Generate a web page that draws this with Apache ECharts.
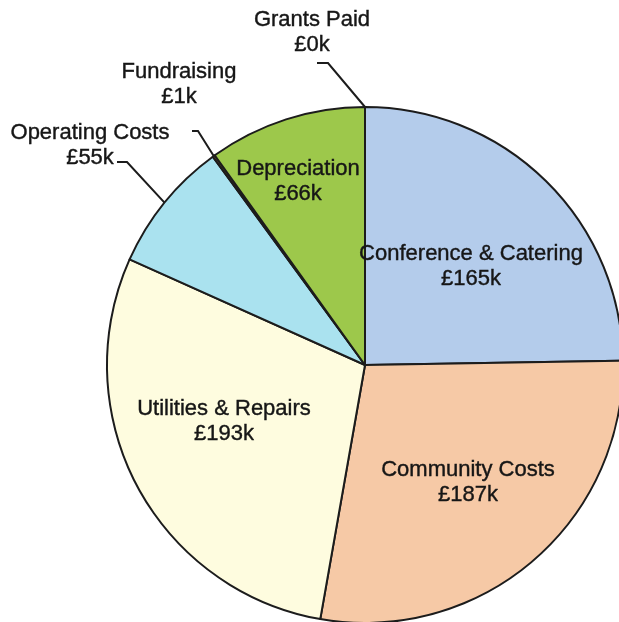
<!DOCTYPE html>
<html>
<head>
<meta charset="utf-8">
<script src="https://cdn.jsdelivr.net/npm/echarts@6/dist/echarts.min.js"></script>
<style>
  html, body { margin: 0; padding: 0; background: #ffffff; }
  #chart { width: 619px; height: 622px; }
</style>
</head>
<body>
<div id="chart"></div>
<script>
// Expenditure breakdown, £k, clockwise from twelve o'clock
const categories = [
  'Conference & Catering',
  'Community Costs',
  'Utilities & Repairs',
  'Operating Costs',
  'Fundraising',
  'Depreciation',
  'Grants Paid'
];
const amounts = [165, 187, 193, 55, 1, 66, 0];

const sliceColors = {
  'Conference & Catering': '#b4cceb',
  'Community Costs': '#f6c9a6',
  'Utilities & Repairs': '#fefcdf',
  'Operating Costs': '#aae2ef',
  'Fundraising': '#6e5028',
  'Depreciation': '#9dc84b',
  'Grants Paid': '#c8c8c8'
};

// Small slices carry their label outside with a leader line
const outsideNames = ['Operating Costs', 'Fundraising', 'Grants Paid'];

// Label block centres on the page
const labelSpots = {
  'Conference & Catering': [471, 266],
  'Community Costs': [468, 482],
  'Utilities & Repairs': [224, 421],
  'Operating Costs': [90, 145],
  'Fundraising': [179, 84],
  'Depreciation': [298, 181],
  'Grants Paid': [312, 32]
};

// Short horizontal hook of each leader line: [near text, near pie]
const leaderHooks = {
  'Operating Costs': [[117, 162], [127, 162]],
  'Fundraising': [[192, 131], [198, 131]],
  'Grants Paid': [[317, 63], [328, 63]]
};

const chart = echarts.init(document.getElementById('chart'), null, { renderer: 'canvas' });

const seriesData = categories.map((name, i) => {
  const outside = outsideNames.indexOf(name) >= 0;
  return {
    name: name,
    value: amounts[i],
    itemStyle: { color: sliceColors[name] },
    label: { position: outside ? 'outside' : 'inside' },
    labelLine: { show: outside }
  };
});

chart.setOption({
  backgroundColor: '#ffffff',
  animation: false,
  series: [{
    type: 'pie',
    center: [365, 365],
    radius: 258,
    startAngle: 90,
    clockwise: true,
    avoidLabelOverlap: false,
    minShowLabelAngle: 0,
    itemStyle: {
      borderColor: '#1c1c1c',
      borderWidth: 2
    },
    label: {
      show: true,
      formatter: p => p.name + '\n£' + p.value + 'k',
      fontFamily: 'Liberation Sans, Arial, sans-serif',
      fontSize: 22,
      lineHeight: 25,
      color: '#161616',
      textBorderColor: '#161616',
      textBorderWidth: 0.4,
      align: 'center'
    },
    labelLine: {
      length: 30,
      length2: 10,
      smooth: false,
      lineStyle: { color: '#1c1c1c', width: 2 }
    },
    labelLayout: function (params) {
      const name = categories[params.dataIndex];
      const spot = labelSpots[name];
      const out = {
        x: spot[0],
        y: spot[1],
        align: 'center',
        verticalAlign: 'middle'
      };
      const hook = leaderHooks[name];
      if (hook && params.labelLinePoints) {
        // keep the library's point on the pie rim, bend into a short hook by the text
        const rim = params.labelLinePoints[0];
        out.labelLinePoints = [[rim[0], rim[1]], hook[1], hook[0]];
      }
      return out;
    },
    data: seriesData
  }]
});
</script>
</body>
</html>
